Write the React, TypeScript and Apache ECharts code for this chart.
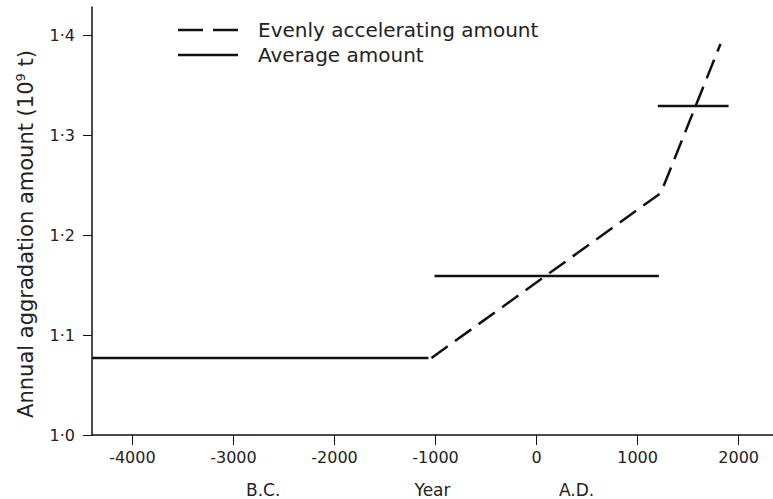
import React, { useEffect, useRef } from "react";
import * as echarts from "echarts";

// Axis ranges and ticks
const xRange = [-4400, 2340];
const yRange = [1.0, 1.428];
const xTicks = [-4000, -3000, -2000, -1000, 0, 1000, 2000];
const yTicks = [1.0, 1.1, 1.2, 1.3, 1.4];

// Series (year, 10^9 t)
const acceleratingAmount = [
  [-1040, 1.077],
  [1230, 1.242],
  [1820, 1.391],
];
const averageBC = [
  [-4400, 1.077],
  [-1070, 1.077],
];
const averageEarlyAD = [
  [-1010, 1.159],
  [1210, 1.159],
];
const averageLateAD = [
  [1200, 1.329],
  [1900, 1.329],
];

const legendNames = ["Evenly accelerating amount", "Average amount"];
const eraLabels = ["B.C.", "A.D."];

const FONT = "DejaVu Sans";
const INK = "#111";
const TXT = "#222";

export default function App() {
  const ref = useRef<HTMLDivElement>(null);

  useEffect(() => {
    if (!ref.current) return;
    const chart = echarts.init(ref.current, null, { renderer: "svg" });
    const solid = { color: INK, width: 2.5, type: "solid" as const };
    const avgSeries = [averageBC, averageEarlyAD, averageLateAD].map((d) => ({
      name: legendNames[1],
      type: "line",
      data: d,
      symbol: "none",
      showSymbol: false,
      lineStyle: solid,
      itemStyle: { color: INK },
      z: 3,
    }));
    chart.setOption({
      animation: false,
      backgroundColor: "#fff",
      grid: {
        left: 92,
        right: 0,
        top: 7,
        bottom: 64,
        containLabel: false,
        outerBoundsMode: "none",
      },
      legend: {
        orient: "vertical",
        left: 173,
        top: 15,
        itemWidth: 60,
        itemHeight: 2.5,
        itemGap: 5,
        selectedMode: false,
        itemStyle: { color: INK, borderWidth: 0, opacity: 1 },
        lineStyle: { width: 0 },
        textStyle: {
          fontFamily: FONT,
          fontSize: 20,
          lineHeight: 20,
          color: TXT,
          padding: [0, 0, 0, 15],
        },
        data: [
          { name: legendNames[0], icon: "path://M0,0h25v2.5h-25z M35,0h25v2.5h-25z" },
          { name: legendNames[1], icon: "path://M0,0h60v2.5h-60z" },
        ],
      },
      xAxis: {
        type: "value",
        min: xRange[0],
        max: xRange[1],
        name: "Year",
        nameLocation: "middle",
        nameGap: 47,
        nameTextStyle: { fontFamily: FONT, fontSize: 17, lineHeight: 16, color: TXT },
        axisLine: { show: true, onZero: false, lineStyle: { color: INK, width: 1.5 } },
        axisTick: {
          show: true,
          length: 10,
          customValues: xTicks,
          lineStyle: { color: INK, width: 1 },
        },
        axisLabel: {
          customValues: xTicks,
          margin: 14,
          fontFamily: FONT,
          fontSize: 16,
          color: TXT,
          formatter: (v: number) => String(v),
        },
        splitLine: { show: false },
      },
      yAxis: {
        type: "value",
        min: yRange[0],
        max: yRange[1],
        name: "{a|Annual aggradation amount (10}{sup|9}{a| t)}",
        nameLocation: "middle",
        nameRotate: 90,
        nameGap: 54,
        nameTextStyle: {
          fontFamily: FONT,
          fontSize: 21,
          color: TXT,
          padding: [0, 26, 0, 0],
          rich: {
            a: { fontFamily: FONT, fontSize: 21, color: TXT, lineHeight: 24 },
            sup: {
              fontFamily: FONT,
              fontSize: 13,
              color: TXT,
              verticalAlign: "top",
              lineHeight: 24,
            },
          },
        },
        axisLine: { show: true, onZero: false, lineStyle: { color: INK, width: 1.5 } },
        axisTick: {
          show: true,
          length: 9,
          customValues: yTicks,
          lineStyle: { color: INK, width: 1 },
        },
        axisLabel: {
          customValues: yTicks,
          margin: 17,
          fontFamily: FONT,
          fontSize: 16,
          color: TXT,
          formatter: (v: number) => v.toFixed(1).replace(".", "·"),
        },
        splitLine: { show: false },
      },
      graphic: [
        {
          type: "text",
          left: 246,
          top: 481,
          style: { text: eraLabels[0], fontFamily: FONT, fontSize: 17, lineHeight: 16, fill: TXT },
        },
        {
          type: "text",
          left: 559,
          top: 481,
          style: { text: eraLabels[1], fontFamily: FONT, fontSize: 17, lineHeight: 16, fill: TXT },
        },
      ],
      series: [
        {
          name: legendNames[0],
          type: "line",
          data: acceleratingAmount,
          symbol: "none",
          showSymbol: false,
          lineStyle: { color: INK, width: 2.5, type: [20, 9] },
          itemStyle: { color: INK },
          z: 4,
        },
        ...avgSeries,
      ],
    });
    return () => chart.dispose();
  }, []);

  return (
    <div
      ref={ref}
      style={{ position: "fixed", left: 0, top: 0, width: 773, height: 499, background: "#fff" }}
    />
  );
}
